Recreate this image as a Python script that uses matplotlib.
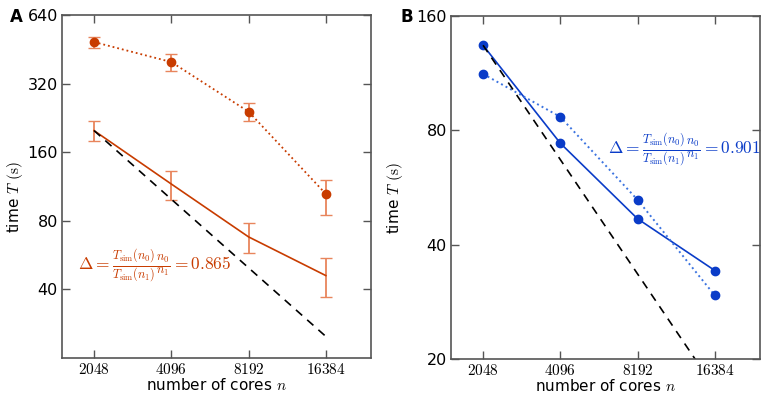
import numpy as np
import matplotlib
matplotlib.use("Agg")
import matplotlib.pyplot as plt

plt.rcParams["mathtext.fontset"] = "cm"
plt.rcParams["font.family"] = "DejaVu Sans"

# ---------------------------
# Data
# ---------------------------
cores = [2048, 4096, 8192, 16384]
core_labels = ["$2048$", "$4096$", "$8192$", "$16384$"]

# Panel A
a_dotted = [487, 398, 241, 105]
a_dotted_lo = [459, 364, 220, 85]
a_dotted_hi = [513, 431, 264, 121]
a_solid = [199, 116, 68, 46]
a_solid_lo = [179, 99, 58, 37]
a_solid_hi = [220, 132, 78, 55]
a_yticks = [40, 80, 160, 320, 640]

# Panel B
b_solid = [134, 74, 46.8, 34.2]
b_dotted = [112.6, 86.8, 52.5, 29.4]
b_yticks = [20, 40, 80, 160]

orange = "#c83c00"
orange_light = "#e8855c"
blue = "#0a3cc8"
blue_light = "#3c74e0"
grey = "#555555"

delta_txt = r"$\Delta = \frac{T_{\rm sim}(n_0)}{T_{\rm sim}(n_1)}\frac{n_0}{n_1} = %s$"


def style_axes(ax, yticks, ylim, ylab_x):
    ax.set_xscale("log", base=2)
    ax.set_yscale("log", base=2)
    ax.set_xlim(1536, 24576)
    ax.set_ylim(*ylim)
    ax.set_xticks(cores)
    ax.set_xticklabels(core_labels, fontsize=11)
    ax.set_yticks(yticks)
    ax.set_yticklabels([str(t) for t in yticks], fontsize=11.5)
    ax.minorticks_off()
    ax.tick_params(direction="in", length=6, width=1, colors=grey,
                   top=True, right=True, labelcolor="black", pad=3)
    for s in ax.spines.values():
        s.set_color(grey)
        s.set_linewidth(1.2)
    ax.set_xlabel("number of cores $n$", fontsize=11, labelpad=0)
    ax.set_ylabel("time $T$ $\\mathrm{(s)}$", fontsize=11)
    ax.yaxis.set_label_coords(ylab_x, 0.47)


fig = plt.figure(figsize=(7.68, 3.97), dpi=100)
axA = fig.add_axes([62 / 768, 1 - 358 / 397, 309 / 768, 343 / 397])
axB = fig.add_axes([451 / 768, 1 - 359 / 397, 309 / 768, 343 / 397])

# ---------------------------
# Panel A
# ---------------------------
c = np.array(cores)
ad = np.array(a_dotted)
as_ = np.array(a_solid)
axA.errorbar(c, ad, yerr=[ad - np.array(a_dotted_lo), np.array(a_dotted_hi) - ad],
             fmt="none", ecolor=orange_light, elinewidth=1.3, capsize=4)
axA.plot(c, ad, ":", color=orange, lw=1.3, marker="o", ms=6)
axA.errorbar(c, as_, yerr=[as_ - np.array(a_solid_lo), np.array(a_solid_hi) - as_],
             fmt="none", ecolor=orange_light, elinewidth=1.3, capsize=4)
axA.plot(c, as_, "-", color=orange, lw=1.2)
axA.plot(c, a_solid[0] * cores[0] / c, "--", color="black", lw=1.2, dashes=(5, 4))
axA.text(2048 * 0.865, 51, delta_txt % "0.865", color=orange, fontsize=12.5, va="center")
style_axes(axA, a_yticks, (20, 640), -0.12)
fig.text(10 / 768, 1 - 17 / 397, "A", fontsize=12, fontweight="bold", va="center")

# ---------------------------
# Panel B
# ---------------------------
axB.plot(c, b_solid, "-", color=blue, lw=1.2, marker="o", ms=6)
axB.plot(c, b_dotted, ":", color=blue_light, lw=1.4)
axB.plot(c, b_dotted, "o", color=blue, ms=6)
axB.plot(c, b_solid[0] * cores[0] / c, "--", color="black", lw=1.2, dashes=(5, 4))
axB.text(2048 * 3.08, 71, delta_txt % "0.901", color=blue, fontsize=12.5, va="center")
style_axes(axB, b_yticks, (20, 160), -0.15)
fig.text(400 / 768, 1 - 17 / 397, "B", fontsize=12, fontweight="bold", va="center")

plt.savefig("out.png", dpi=100)
plt.close()
